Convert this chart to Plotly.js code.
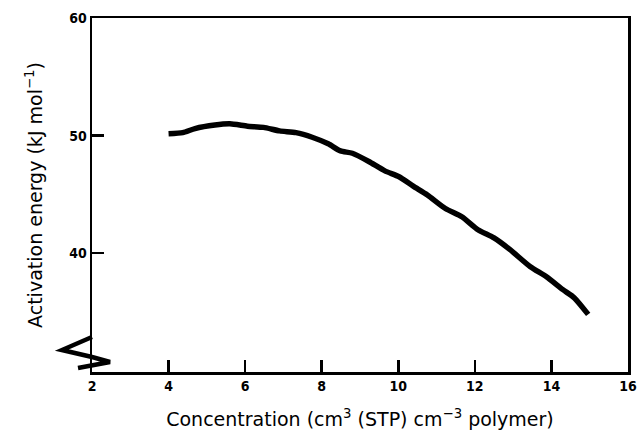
<!DOCTYPE html>
<html>
<head>
<meta charset="utf-8">
<script src="https://cdn.plot.ly/plotly-3.0.1.min.js"></script>
<style>html,body{margin:0;padding:0;background:#fff;}#chart{width:640px;height:440px;}</style>
</head>
<body>
<div id="chart"></div>
<script>
// Data
const concentration = [4.0, 4.37, 4.69, 5.21, 5.6, 6.06, 6.48, 6.9, 7.33, 7.75, 8.17, 8.49, 8.8, 9.23, 9.65, 10.02, 10.39, 10.76, 11.23, 11.66, 12.08, 12.5, 12.92, 13.45, 13.87, 14.3, 14.6, 14.96];
const activationEnergy = [50.15, 50.25, 50.6, 50.9, 51.0, 50.8, 50.7, 50.4, 50.25, 49.86, 49.3, 48.7, 48.5, 47.8, 47.0, 46.5, 45.7, 44.95, 43.8, 43.1, 42.0, 41.3, 40.3, 38.85, 38.0, 36.9, 36.2, 34.8];
const xTicks = [2, 4, 6, 8, 10, 12, 14, 16];
const yTicks = [40, 50, 60];

const tickFont = {family: 'DejaVu Sans Condensed', size: 14, color: '#000', weight: 'bold'};
const titleFont = {family: 'DejaVu Sans', size: 19, color: '#000'};

const trace = {
  x: concentration,
  y: activationEnergy,
  mode: 'lines',
  line: {color: '#000', width: 5.5, shape: 'spline', smoothing: 0.6},
  hoverinfo: 'skip'
};

// Axis-break mark on the lower-left corner (paper coordinates)
const px = v => (v - 92) / 536;
const py = v => (372 - v) / 354;
const breakPath = `M ${px(92)},${py(337)} L ${px(62)},${py(350)} L ${px(92)},${py(357)} L ${px(110)},${py(362)} L ${px(78)},${py(368)}`;

const layout = {
  width: 640, height: 440,
  margin: {l: 92, r: 12, t: 18, b: 68},
  paper_bgcolor: '#fff', plot_bgcolor: '#fff',
  showlegend: false,
  xaxis: {
    range: [2, 16], tickvals: xTicks,
    ticks: 'inside', ticklen: 12, tickwidth: 2.5, tickcolor: '#000',
    showline: true, linewidth: 2.5, linecolor: '#000', mirror: true,
    showgrid: false, zeroline: false, tickfont: tickFont,
    title: {text: 'Concentration (cm<sup>3</sup> (STP) cm<sup>−3</sup> polymer)', font: titleFont, standoff: 20}
  },
  yaxis: {
    range: [29.9, 60], tickvals: yTicks,
    ticks: 'inside', ticklen: 12, tickwidth: 2.5, tickcolor: '#000',
    showline: true, linewidth: 2.5, linecolor: '#000', mirror: true,
    showgrid: false, zeroline: false, tickfont: tickFont,
    title: {text: 'Activation energy (kJ mol<sup>−1</sup>)', font: titleFont, standoff: 22}
  },
  shapes: [{
    type: 'path', xref: 'paper', yref: 'paper', path: breakPath,
    line: {color: '#000', width: 4.5}, fillcolor: 'rgba(0,0,0,0)'
  }]
};

Plotly.newPlot('chart', [trace], layout, {staticPlot: true, displayModeBar: false});
</script>
</body>
</html>
